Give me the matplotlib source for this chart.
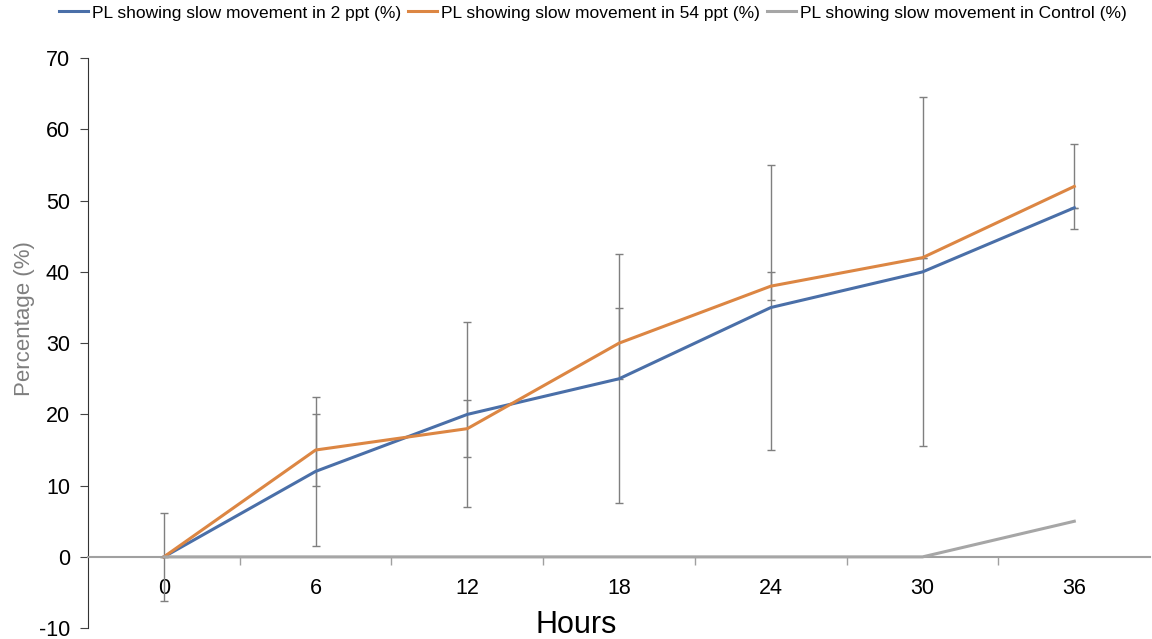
import numpy as np
import matplotlib
matplotlib.use('Agg')
import matplotlib.pyplot as plt

hours = ['0', '6', '12', '18', '24', '30', '36']
slow_2ppt = [0, 12, 20, 25, 35, 40, 49]
slow_54ppt = [0, 15, 18, 30, 38, 42, 52]
slow_control = [0, 0, 0, 0, 0, 0, 5]
err_2ppt = [6.2, 10.5, 13, 17.5, 20, 24.5, 0]
err_54ppt = [0, 5, 4, 5, 2, 0, 6]

plt.rcParams['font.family'] = ['Liberation Sans', 'DejaVu Sans']
plt.rcParams['axes.unicode_minus'] = False

fig = plt.figure(figsize=(11.52, 6.39), dpi=100)
ax = fig.add_axes([0.0764, 0.017, 0.922, 0.892])

x = np.arange(len(hours))
ax.plot(x, slow_2ppt, color='#4a6fa8', lw=2.2, label='PL showing slow movement in 2 ppt (%)', zorder=3)
ax.plot(x, slow_54ppt, color='#dc8643', lw=2.2, label='PL showing slow movement in 54 ppt (%)', zorder=3)
ax.plot(x, slow_control, color='#a6a6a6', lw=2.2, label='PL showing slow movement in Control (%)', zorder=3)

ax.errorbar(x, slow_2ppt, yerr=err_2ppt, fmt='none', ecolor='#7f7f7f', elinewidth=1, capsize=3, capthick=1, zorder=2)
ax.errorbar(x, slow_54ppt, yerr=err_54ppt, fmt='none', ecolor='#7f7f7f', elinewidth=1, capsize=3, capthick=1, zorder=2)

ax.set_xlim(-0.5, len(hours) - 0.5)
ax.set_ylim(-10, 70)
ax.set_yticks(range(-10, 71, 10))
ax.tick_params(axis='y', labelsize=15.5, direction='out', length=6, color='#444444', pad=7)

ax.spines['top'].set_visible(False)
ax.spines['right'].set_visible(False)
ax.spines['left'].set_color('#333333')
ax.spines['bottom'].set_position(('data', 0))
ax.spines['bottom'].set_color('#a0a0a0')
ax.spines['bottom'].set_linewidth(1.5)

ax.set_xticks(x)
ax.set_xticklabels(hours)
ax.tick_params(axis='x', which='major', length=0, labelsize=15.5, pad=15)
ax.set_xticks(np.arange(0.5, len(hours) - 0.5, 1), minor=True)
ax.tick_params(axis='x', which='minor', length=6, color='#a0a0a0', width=1, direction='out')

ax.set_ylabel('Percentage (%)', fontsize=16, color='#7f7f7f')
ax.yaxis.set_label_coords(-0.05, 0.544)
fig.text(0.5, 0.022, 'Hours', ha='center', va='center', fontsize=22)

ax.legend(loc='upper center', bbox_to_anchor=(0.475, 1.12), ncol=3, frameon=False,
          fontsize=12.5, handlelength=1.7, handletextpad=0.2, columnspacing=0.4)

fig.savefig('out.png', dpi=100)
